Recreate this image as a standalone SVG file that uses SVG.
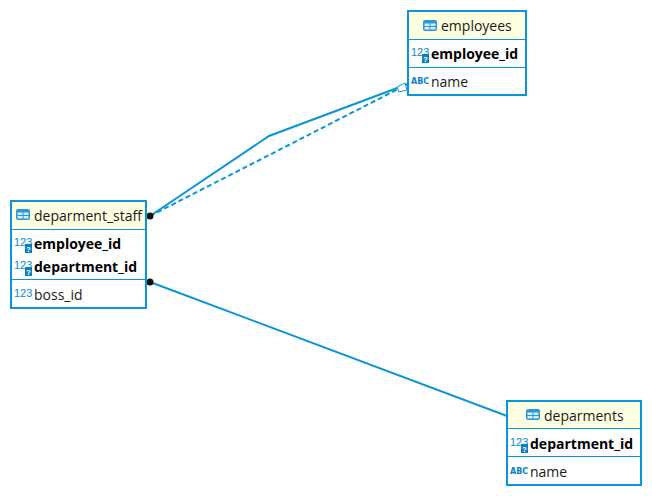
<svg xmlns="http://www.w3.org/2000/svg" width="652" height="496" viewBox="0 0 652 496">
<style>
.box{fill:#fff;stroke:#0a96d6;stroke-width:2}
.hdr{fill:#ffffe1}
.sep{stroke:#0a96d6;stroke-width:1;fill:none}
.t{font-family:"Open Sans","Noto Sans",sans-serif;font-size:14px;fill:#1a1a1a}
.b{font-family:"Open Sans","Noto Sans",sans-serif;font-size:14px;font-weight:700;fill:#000}
.ic{font-family:"Liberation Sans",sans-serif;font-size:11px;fill:#0a8ccf}
.ab{font-family:"DejaVu Sans",sans-serif;font-size:8px;font-weight:700;fill:#0a7fc8}
.c{fill:none;stroke:#0a96d6;stroke-width:2}
.tile{fill:#2a97d8}
</style>
<defs>
<g id="tbl"><rect x="0" y="0" width="14" height="11" rx="2" class="tile"/><rect x="1.500" y="3.500" width="5" height="2.500" fill="#d7eefb"/><rect x="7.500" y="3.500" width="5" height="2.500" fill="#d7eefb"/><rect x="1.500" y="7" width="5" height="2.500" fill="#d7eefb"/><rect x="7.500" y="7" width="5" height="2.500" fill="#d7eefb"/></g>
<g id="key"><text x="0" y="9" class="ic">123</text><rect x="11" y="7" width="7" height="9" fill="#0a7fc0"/><text x="14.500" y="14.500" text-anchor="middle" font-family="Liberation Sans,sans-serif" font-size="8" font-weight="700" fill="#fff">?</text></g>
</defs>
<g id="connectors">
<polyline class="c" points="150,216 269,136 408,84"/>
<polyline class="c" stroke-dasharray="5 3" points="150,216 408,84"/>
<polygon points="397,87 405,83 407,90 399,92" fill="#fff" stroke="#0a96d6" stroke-width="1"/>
<circle cx="150" cy="216" r="3.500" fill="#111"/>
<line class="c" x1="150" y1="282" x2="507" y2="416"/>
<circle cx="150" cy="282" r="3.500" fill="#111"/>
</g>
<g id="employees">
<rect class="box" x="408" y="11" width="118" height="84"/>
<rect class="hdr" x="409" y="12" width="116" height="27"/>
<line class="sep" x1="408" y1="39.500" x2="526" y2="39.500"/>
<line class="sep" x1="408" y1="67.500" x2="526" y2="67.500"/>
<use href="#tbl" x="423" y="20"/>
<text class="t" x="441" y="31">employees</text>
<use href="#key" x="411" y="47"/>
<text class="b" x="431" y="59">employee_id</text>
<text class="ab" x="411" y="84">ABC</text>
<text class="t" x="431" y="87">name</text>
</g>
<g id="deparment_staff">
<rect class="box" x="11" y="201" width="135" height="107"/>
<rect class="hdr" x="12" y="202" width="133" height="27"/>
<line class="sep" x1="11" y1="229.500" x2="146" y2="229.500"/>
<line class="sep" x1="11" y1="279.500" x2="146" y2="279.500"/>
<use href="#tbl" x="16" y="209"/>
<text class="t" x="34" y="221">deparment_staff</text>
<use href="#key" x="14" y="237"/>
<text class="b" x="34" y="249">employee_id</text>
<use href="#key" x="14" y="260"/>
<text class="b" x="34" y="272">department_id</text>
<text class="ic" x="14" y="297">123</text>
<text class="t" x="34" y="300">boss_id</text>
</g>
<g id="deparments">
<rect class="box" x="507" y="401" width="134" height="84"/>
<rect class="hdr" x="508" y="402" width="132" height="26"/>
<line class="sep" x1="507" y1="428.500" x2="641" y2="428.500"/>
<line class="sep" x1="507" y1="456.500" x2="641" y2="456.500"/>
<use href="#tbl" x="526" y="409"/>
<text class="t" x="544" y="421">deparments</text>
<use href="#key" x="510" y="437"/>
<text class="b" x="530" y="449">department_id</text>
<text class="ab" x="510" y="474">ABC</text>
<text class="t" x="530" y="477">name</text>
</g>
</svg>
